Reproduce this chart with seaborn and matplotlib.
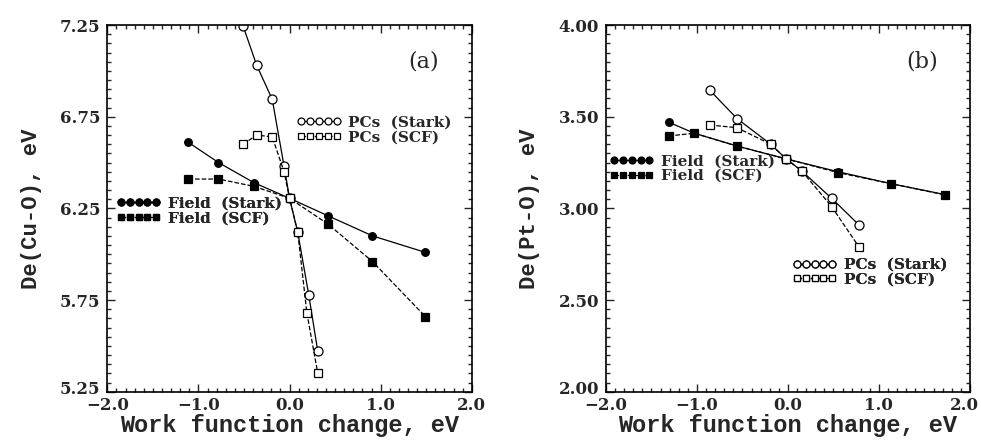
import numpy as np
import matplotlib
matplotlib.use("Agg")
import matplotlib.pyplot as plt
import seaborn as sns
from matplotlib.lines import Line2D
from matplotlib.transforms import ScaledTranslation
from matplotlib.ticker import MultipleLocator, FixedLocator, FuncFormatter

# panel (a): De(Cu-O)
cu_field_x = [-1.11, -0.78, -0.39, 0.0, 0.42, 0.91, 1.49]
cu_field_stark = [6.61, 6.50, 6.39, 6.305, 6.21, 6.10, 6.01]
cu_field_scf = [6.41, 6.41, 6.37, 6.305, 6.165, 5.96, 5.66]
cu_pc_x = [-0.51, -0.36, -0.19, -0.06, 0.0, 0.09, 0.21, 0.31]
cu_pc_stark = [7.245, 7.03, 6.845, 6.48, 6.305, 6.12, 5.78, 5.47]
cu_pc_scf_x = [-0.51, -0.36, -0.19, -0.06, 0.0, 0.09, 0.19, 0.31]
cu_pc_scf = [6.60, 6.65, 6.64, 6.45, 6.305, 6.12, 5.68, 5.35]
cu_yticks = [5.25, 5.75, 6.25, 6.75, 7.25]

# panel (b): De(Pt-O)
pt_field_x = [-1.31, -1.03, -0.56, -0.02, 0.55, 1.13, 1.73]
pt_field_stark = [3.47, 3.41, 3.34, 3.27, 3.20, 3.135, 3.075]
pt_field_scf = [3.395, 3.41, 3.34, 3.27, 3.195, 3.135, 3.073]
pt_pc_x = [-0.86, -0.56, -0.19, -0.02, 0.15, 0.48, 0.78]
pt_pc_stark = [3.645, 3.49, 3.35, 3.27, 3.205, 3.055, 2.91]
pt_pc_scf = [3.455, 3.44, 3.35, 3.27, 3.205, 3.01, 2.79]
pt_yticks = [2.00, 2.50, 3.00, 3.50, 4.00]

xticks = [-2.0, -1.0, 0.0, 1.0, 2.0]

sns.set_style("ticks")
plt.rcParams["font.family"] = ["DejaVu Serif"]

fig = plt.figure(figsize=(9.81, 4.46), dpi=100)
axa = fig.add_axes([0.1094, 0.1218, 0.3715, 0.822])
axb = fig.add_axes([0.6177, 0.1218, 0.371, 0.822])

ms_fill = 5.5
ms_open = 6.5
xlabel_font = dict(family="Liberation Mono", size=17, weight="bold")
ylabel_font = dict(family="Liberation Mono", size=16, weight="bold")


def series(ax, x, y, marker, filled, ls, ms):
    sns.lineplot(x=x, y=y, ax=ax, sort=False, estimator=None, color="black",
                 linewidth=0.9, linestyle=ls, marker=marker, markersize=ms,
                 markerfacecolor="black" if filled else "white",
                 markeredgecolor="black", markeredgewidth=0.9,
                 dashes=False if ls == "-" else (5, 4))


def handle(marker, filled, ls, ms):
    return Line2D([], [], color="black", linewidth=0.9, linestyle=ls,
                  marker=marker, markersize=ms,
                  markerfacecolor="black" if filled else "white",
                  markeredgecolor="black", markeredgewidth=0.9)


def key(ax, items, x, y):
    hs = [handle(*it[1:]) for it in items]
    labels = [it[0] for it in items]
    leg = ax.legend(hs, labels, loc="upper left", bbox_to_anchor=(x, y),
                    bbox_transform=ax.transData, frameon=False, numpoints=5,
                    handlelength=2.9, handletextpad=0.45, labelspacing=0.05,
                    borderpad=0, borderaxespad=0,
                    prop=dict(family="DejaVu Serif", weight="bold", size=11))
    ax.add_artist(leg)


# (a)
series(axa, cu_field_x, cu_field_stark, "o", True, "-", ms_fill)
series(axa, cu_field_x, cu_field_scf, "s", True, "--", ms_fill)
series(axa, cu_pc_x, cu_pc_stark, "o", False, "-", ms_open)
series(axa, cu_pc_scf_x, cu_pc_scf, "s", False, "--", ms_open - 1)
key(axa, [("PCs  (Stark)", "o", False, "-", ms_open - 1.5),
          ("PCs  (SCF)", "s", False, "--", ms_open - 2)], 0.08, 6.755)
key(axa, [("Field  (Stark)", "o", True, "-", ms_fill - 0.5),
          ("Field  (SCF)", "s", True, "--", ms_fill - 0.5)], -1.9, 6.315)
axa.text(1.47, 7.05, "(a)", fontsize=16, ha="center", va="center")
axa.set_ylim(5.25, 7.25)
axa.yaxis.set_major_locator(FixedLocator(cu_yticks))
axa.set_ylabel("De(Cu-O), eV", fontdict=ylabel_font, labelpad=13)

# (b)
series(axb, pt_field_x, pt_field_stark, "o", True, "-", ms_fill)
series(axb, pt_field_x, pt_field_scf, "s", True, "--", ms_fill)
series(axb, pt_pc_x, pt_pc_stark, "o", False, "-", ms_open)
series(axb, pt_pc_x, pt_pc_scf, "s", False, "--", ms_open - 1)
key(axb, [("Field  (Stark)", "o", True, "-", ms_fill - 0.5),
          ("Field  (SCF)", "s", True, "--", ms_fill - 0.5)], -1.96, 3.295)
key(axb, [("PCs  (Stark)", "o", False, "-", ms_open - 1.5),
          ("PCs  (SCF)", "s", False, "--", ms_open - 2)], 0.05, 2.73)
axb.text(1.47, 3.80, "(b)", fontsize=16, ha="center", va="center")
axb.set_ylim(2.0, 4.0)
axb.yaxis.set_major_locator(FixedLocator(pt_yticks))
axb.set_ylabel("De(Pt-O), eV", fontdict=ylabel_font, labelpad=13)

for ax in (axa, axb):
    ax.set_xlim(-2.0, 2.0)
    ax.xaxis.set_major_locator(FixedLocator(xticks))
    ax.xaxis.set_minor_locator(MultipleLocator(0.1))
    ax.yaxis.set_minor_locator(MultipleLocator(0.05))
    ax.xaxis.set_major_formatter(FuncFormatter(lambda v, p: f"{v:.1f}".replace("-", "\u2212")))
    ax.yaxis.set_major_formatter(FuncFormatter(lambda v, p: f"{v:.2f}"))
    ax.tick_params(which="both", direction="in", top=True, right=True,
                   labelsize=12, width=1.0)
    ax.tick_params(which="major", length=6)
    ax.tick_params(axis="x", which="major", pad=3.5)
    ax.tick_params(axis="y", which="major", pad=5)
    ax.tick_params(which="minor", length=3)
    for t in ax.get_xticklabels() + ax.get_yticklabels():
        t.set_fontweight("bold")
    for s in ax.spines.values():
        s.set_linewidth(1.2)
        s.set_color("black")
    ax.set_xlabel("Work function change, eV", fontdict=xlabel_font, labelpad=0)

fig.canvas.draw()
for ax in (axa, axb):
    # lift the lowest y label a little so it clears the first x label
    lbl = ax.yaxis.get_major_ticks()[0].label1
    lbl.set_transform(lbl.get_transform() + ScaledTranslation(0, 4 / 100, fig.dpi_scale_trans))

# keep the last x label of panel (b) inside the figure
lbl = axb.xaxis.get_major_ticks()[-1].label1
lbl.set_horizontalalignment("right")
lbl.set_transform(lbl.get_transform() + ScaledTranslation(9 / 100, 0, fig.dpi_scale_trans))

fig.savefig("out.png", dpi=100)
